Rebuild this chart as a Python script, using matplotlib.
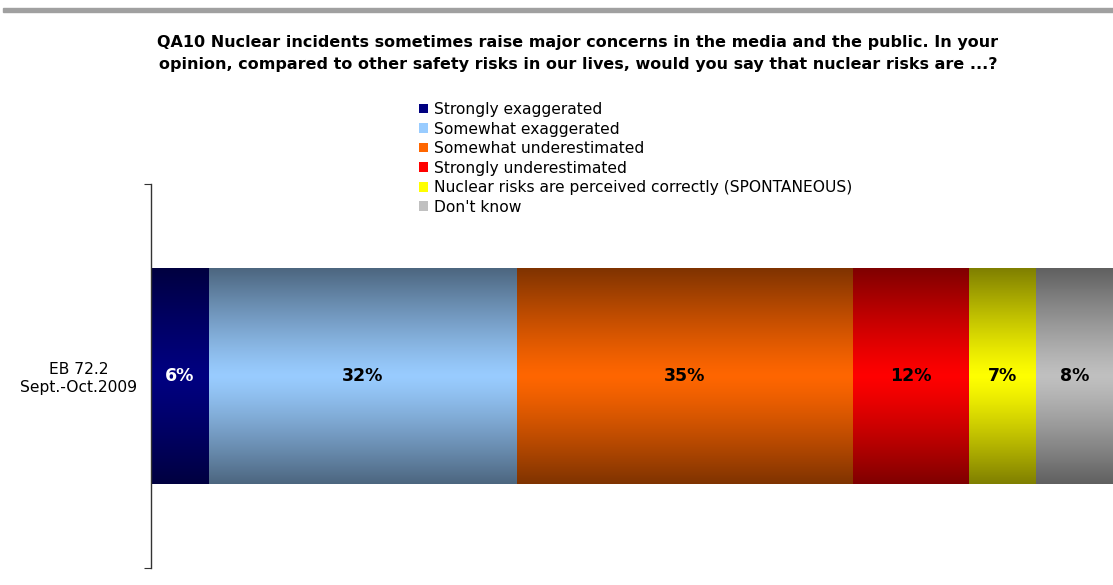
import numpy as np
import matplotlib
matplotlib.use("Agg")
import matplotlib.pyplot as plt
from matplotlib.patches import Patch, Rectangle

# Data
categories = ["EB 72.2\nSept.-Oct.2009"]
answers = [
    "Strongly exaggerated",
    "Somewhat exaggerated",
    "Somewhat underestimated",
    "Strongly underestimated",
    "Nuclear risks are perceived correctly (SPONTANEOUS)",
    "Don't know",
]
values = [6, 32, 35, 12, 7, 8]
colors = ["#000080", "#99CCFF", "#FF6600", "#FF0000", "#FFFF00", "#C0C0C0"]
label_colors = ["white", "black", "black", "black", "black", "black"]

title = ("QA10 Nuclear incidents sometimes raise major concerns in the media and the public. In your\n"
         "opinion, compared to other safety risks in our lives, would you say that nuclear risks are ...?")

plt.rcParams["font.family"] = ["DejaVu Sans"]

fig = plt.figure(figsize=(11.13, 5.85), dpi=100)
ax = fig.add_axes([151 / 1113, 17 / 585, 1 - 151 / 1113, 384 / 585])

bar_h = 0.5625
left = 0
# vertical gradient: dark at top/bottom edges, bright in the middle
t = np.linspace(-1, 1, 200)
shade = 1 - 0.5 * np.abs(t) ** 1.2
for val, col, lc in zip(values, colors, label_colors):
    bar = ax.barh(0, val, left=left, height=bar_h, color="none", edgecolor="none")[0]
    rgb = np.array(matplotlib.colors.to_rgb(col))
    img = (shade[:, None, None] * rgb[None, None, :])
    im = ax.imshow(img, extent=(left, left + val, -bar_h / 2, bar_h / 2),
                   aspect="auto", interpolation="bilinear", zorder=2)
    im.set_clip_path(bar)
    ax.text(left + val / 2, 0, f"{val}%", ha="center", va="center",
            fontsize=12.5, fontweight="bold", color=lc, zorder=3)
    left += val

ax.set_xlim(0, 100)
ax.set_ylim(-0.5, 0.5)

for s in ["top", "right", "bottom"]:
    ax.spines[s].set_visible(False)
ax.spines["left"].set_color("#333333")
ax.spines["left"].set_linewidth(1)
ax.set_xticks([])
ax.set_yticks([-0.5, 0.5])
ax.set_yticklabels([])
ax.tick_params(axis="y", which="major", length=5, direction="out", color="#333333")
ax.set_yticks([0], minor=True)
ax.set_yticklabels(categories, minor=True, fontsize=11.2, multialignment="center")
ax.tick_params(axis="y", which="minor", length=0, pad=10)

# title
fig.text(578 / 1113, 1 - 35 / 585, title, ha="center", va="top",
         fontsize=11.5, fontweight="bold", linespacing=1.6)

# gray rule at top
fig.patches.append(Rectangle((3 / 1113, 1 - 12 / 585), 1, 4 / 585,
                             transform=fig.transFigure, color="#A0A0A0", zorder=0))

handles = [Patch(facecolor=c, edgecolor="none") for c in colors]
fig.legend(handles, answers, loc="upper left", bbox_to_anchor=(419 / 1113, 1 - 102 / 585),
           frameon=False, fontsize=11.2, handlelength=0.6, handleheight=0.6,
           handletextpad=0.35, labelspacing=0.29, borderpad=0, borderaxespad=0)

fig.savefig("out.png", dpi=100)
